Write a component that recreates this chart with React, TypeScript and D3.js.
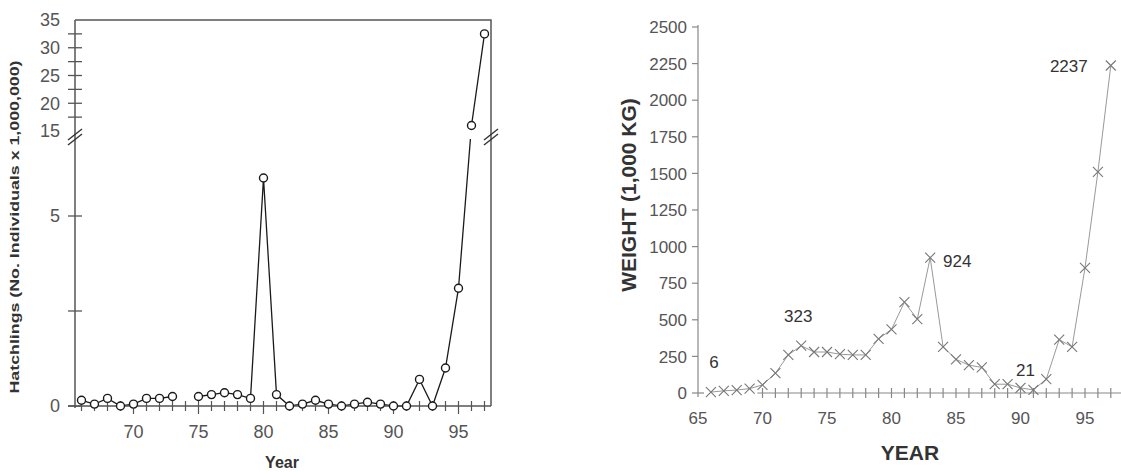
import React, { useEffect, useRef } from 'react';
import * as d3 from 'd3';

// Left panel: hatchlings (millions); null = no record that year
const hatchYears = [66, 67, 68, 69, 70, 71, 72, 73, 74, 75, 76, 77, 78, 79, 80, 81, 82, 83, 84, 85, 86, 87, 88, 89, 90, 91, 92, 93, 94, 95, 96, 97];
const hatchValues: (number | null)[] = [0.15, 0.05, 0.2, 0, 0.05, 0.2, 0.2, 0.25, null, 0.25, 0.3, 0.35, 0.3, 0.2, 6.0, 0.3, 0, 0.05, 0.15, 0.05, 0, 0.05, 0.1, 0.05, 0, 0, 0.7, 0, 1.0, 3.1, 16, 32.5];
const hatchUpperTicks = [35, 30, 25, 20, 15];
const hatchUpperMinor = [32.5, 27.5, 22.5, 17.5];
const hatchLowerTicks = [5, 0];
const hatchLowerMinor = [2.5];
const hatchXTicks = [70, 75, 80, 85, 90, 95];

// Right panel: weight (1,000 kg)
const weightYears = [66, 67, 68, 69, 70, 71, 72, 73, 74, 75, 76, 77, 78, 79, 80, 81, 82, 83, 84, 85, 86, 87, 88, 89, 90, 91, 92, 93, 94, 95, 96, 97];
const weightValues = [6, 15, 20, 30, 55, 135, 260, 323, 280, 280, 265, 260, 260, 370, 435, 620, 505, 924, 315, 230, 190, 175, 60, 60, 35, 21, 95, 365, 315, 855, 1510, 2237];
const weightYTicks = [0, 250, 500, 750, 1000, 1250, 1500, 1750, 2000, 2250, 2500];
const weightXTicks = [65, 70, 75, 80, 85, 90, 95];
const baselineYears = d3.range(70, 98);
const weightNotes = [
  { year: 66, value: 6, text: '6', dx: 3, dy: -30 },
  { year: 73, value: 323, text: '323', dx: -3, dy: -30 },
  { year: 83, value: 924, text: '924', dx: 27, dy: 3 },
  { year: 91, value: 21, text: '21', dx: -8, dy: -20 },
  { year: 97, value: 2237, text: '2237', dx: -42, dy: 0 },
];

const FONT = '"Liberation Sans", Arial, sans-serif';

const App = () => {
  const svgRef = useRef<SVGSVGElement>(null);

  useEffect(() => {
    const svg = d3.select(svgRef.current);
    svg.selectAll('*').remove();

    // ---------- left panel ----------
    const L = svg.append('g');
    const x1 = d3.scaleLinear().domain([65.5, 97.5]).range([75, 491]);
    // broken axis: 0-7 on the bottom part, 15-35 on the top part
    const y1 = d3.scaleLinear().domain([0, 7, 15, 35]).range([406, 140, 131, 20]);
    const frame = '#555';

    const pts = hatchYears.map((yr, i) => ({ yr, v: hatchValues[i] }));
    const line1 = d3.line<{ yr: number; v: number | null }>()
      .defined(d => d.v !== null)
      .x(d => x1(d.yr))
      .y(d => y1(d.v as number));

    L.append('path')
      .attr('d', line1(pts))
      .attr('fill', 'none')
      .attr('stroke', '#1a1a1a')
      .attr('stroke-width', 1.3);

    // white gap where the axis is broken
    L.append('rect')
      .attr('x', 80).attr('y', 130)
      .attr('width', 405).attr('height', 9)
      .attr('fill', 'white');

    // frame
    L.append('path')
      .attr('d', `M${x1(65.5)},${y1(35)}H${x1(97.5)}V${y1(0)}`)
      .attr('fill', 'none').attr('stroke', frame).attr('stroke-width', 1.5);
    L.append('line')
      .attr('x1', x1(65.5)).attr('x2', x1(65.5))
      .attr('y1', y1(35)).attr('y2', y1(0) + 2)
      .attr('stroke', frame).attr('stroke-width', 1.5);
    L.append('line')
      .attr('x1', 68).attr('x2', x1(97.5))
      .attr('y1', y1(0)).attr('y2', y1(0))
      .attr('stroke', frame).attr('stroke-width', 1.5);

    // y ticks
    const yTicks = [...hatchUpperTicks, ...hatchUpperMinor, ...hatchLowerTicks, ...hatchLowerMinor].filter(v => v !== 35 && v !== 15);
    L.selectAll('.ytick').data(yTicks).enter().append('line')
      .attr('x1', x1(65.5) - 7).attr('x2', x1(65.5) + 7)
      .attr('y1', d => y1(d)).attr('y2', d => y1(d))
      .attr('stroke', frame).attr('stroke-width', 1.3);

    L.selectAll('.ylab').data([...hatchUpperTicks, ...hatchLowerTicks]).enter().append('text')
      .attr('x', 60)
      .attr('y', d => y1(d))
      .attr('dy', '0.36em')
      .attr('text-anchor', 'end')
      .style('font-family', FONT).style('font-size', '18px').style('fill', '#555')
      .text(d => d);

    // break marks on left axis and right frame
    [x1(65.5), x1(97.5)].forEach(bx => {
      [0, 5].forEach(off => {
        L.append('line')
          .attr('x1', bx - 7).attr('y1', 142 + off - 2)
          .attr('x2', bx + 7).attr('y2', 131 + off - 2)
          .attr('stroke', '#333').attr('stroke-width', 1.4);
      });
    });

    // x ticks every year
    L.selectAll('.xtick').data(d3.range(66, 98)).enter().append('line')
      .attr('x1', d => x1(d)).attr('x2', d => x1(d))
      .attr('y1', y1(0) - 5)
      .attr('y2', d => y1(0) + (d % 5 === 0 ? 8 : 5))
      .attr('stroke', frame).attr('stroke-width', 1.2);

    L.selectAll('.xlab').data(hatchXTicks).enter().append('text')
      .attr('x', d => x1(d))
      .attr('y', 432)
      .attr('dy', '0.36em')
      .attr('text-anchor', 'middle')
      .style('font-family', FONT).style('font-size', '18px').style('fill', '#555')
      .text(d => d);

    // markers
    L.selectAll('.pt').data(pts.filter(d => d.v !== null)).enter().append('circle')
      .attr('cx', d => x1(d.yr))
      .attr('cy', d => y1(d.v as number))
      .attr('r', 4)
      .attr('fill', 'white')
      .attr('stroke', '#1a1a1a')
      .attr('stroke-width', 1.4);

    L.append('text')
      .attr('transform', `translate(19,227) rotate(-90)`)
      .attr('text-anchor', 'middle')
      .attr('textLength', 333)
      .attr('lengthAdjust', 'spacingAndGlyphs')
      .style('font-family', FONT).style('font-size', '13px').style('font-weight', 'bold').style('fill', '#333')
      .text('Hatchlings (No. Individuals x 1,000,000)');

    L.append('text')
      .attr('x', 282).attr('y', 462)
      .attr('dy', '0.36em')
      .attr('text-anchor', 'middle')
      .style('font-family', FONT).style('font-size', '16px').style('font-weight', 'bold').style('fill', '#333')
      .text('Year');

    // ---------- right panel ----------
    const R = svg.append('g');
    const x2 = d3.scaleLinear().domain([65, 98]).range([698, 698 + 33 * 12.9]);
    const y2 = d3.scaleLinear().domain([0, 2500]).range([393, 27]);
    const axisCol = '#888';

    R.append('line')
      .attr('x1', x2(65)).attr('x2', x2(65))
      .attr('y1', y2(2500) - 2).attr('y2', y2(0) + 4)
      .attr('stroke', axisCol).attr('stroke-width', 1.2);
    R.selectAll('.ytick').data(weightYTicks).enter().append('line')
      .attr('x1', x2(65) - 6).attr('x2', d => x2(65) + (d === 0 ? 6 : 0))
      .attr('y1', d => y2(d)).attr('y2', d => y2(d))
      .attr('stroke', axisCol).attr('stroke-width', 1.2);
    R.selectAll('.ylab').data(weightYTicks).enter().append('text')
      .attr('x', 687)
      .attr('y', d => y2(d))
      .attr('dy', '0.36em')
      .attr('text-anchor', 'end')
      .style('font-family', FONT).style('font-size', '17px').style('fill', '#555')
      .text(d => d);

    // baseline with a tick per year
    R.append('line')
      .attr('x1', x2(69.6)).attr('x2', 1121)
      .attr('y1', y2(0)).attr('y2', y2(0))
      .attr('stroke', axisCol).attr('stroke-width', 1.2);
    R.selectAll('.btick').data(baselineYears).enter().append('line')
      .attr('x1', d => x2(d)).attr('x2', d => x2(d))
      .attr('y1', y2(0) - 5).attr('y2', y2(0) + 5)
      .attr('stroke', axisCol).attr('stroke-width', 1.2);

    R.selectAll('.xlab').data(weightXTicks).enter().append('text')
      .attr('x', d => x2(d))
      .attr('y', 418)
      .attr('dy', '0.36em')
      .attr('text-anchor', 'middle')
      .style('font-family', FONT).style('font-size', '17px').style('fill', '#555')
      .text(d => d);

    const wpts = weightYears.map((yr, i) => ({ yr, v: weightValues[i] }));
    R.append('path')
      .attr('d', d3.line<{ yr: number; v: number }>().x(d => x2(d.yr)).y(d => y2(d.v))(wpts))
      .attr('fill', 'none')
      .attr('stroke', '#999')
      .attr('stroke-width', 1);

    const s = 5;
    R.selectAll('.mk').data(wpts).enter().append('path')
      .attr('d', d => {
        const cx = x2(d.yr), cy = y2(d.v);
        return `M${cx - s},${cy - s}L${cx + s},${cy + s}M${cx - s},${cy + s}L${cx + s},${cy - s}`;
      })
      .attr('stroke', '#777')
      .attr('stroke-width', 1.1)
      .attr('fill', 'none');

    R.selectAll('.note').data(weightNotes).enter().append('text')
      .attr('x', d => x2(d.year) + d.dx)
      .attr('y', d => y2(d.value) + d.dy)
      .attr('dy', '0.36em')
      .attr('text-anchor', 'middle')
      .style('font-family', FONT).style('font-size', '17px').style('fill', '#333')
      .text(d => d.text);

    R.append('text')
      .attr('transform', `translate(628,195) rotate(-90)`)
      .attr('text-anchor', 'middle')
      .attr('dy', '0.36em')
      .style('font-family', FONT).style('font-size', '21px').style('font-weight', 'bold').style('fill', '#333')
      .text('WEIGHT (1,000 KG)');

    R.append('text')
      .attr('x', 910).attr('y', 452)
      .attr('dy', '0.36em')
      .attr('text-anchor', 'middle')
      .style('font-family', FONT).style('font-size', '21px').style('font-weight', 'bold').style('fill', '#333')
      .text('YEAR');
  }, []);

  return (
    <svg
      ref={svgRef}
      width={1121}
      height={473}
      style={{ position: 'absolute', left: 0, top: 0, background: 'white' }}
    />
  );
};

export default App;
